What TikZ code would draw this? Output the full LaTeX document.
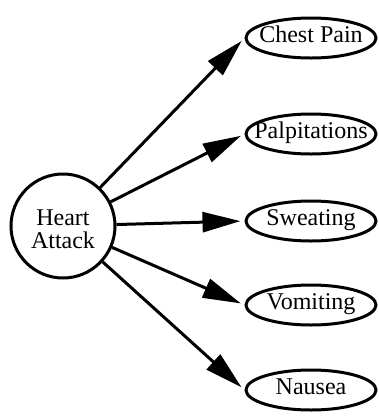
\documentclass[tikz,border=0pt]{standalone}
\usepackage{fontspec}
\setmainfont{Liberation Serif}
\usetikzlibrary{arrows.meta,shapes.geometric}
\tikzset{
  cause/.style={circle, draw=black, line width=3pt, minimum size=104pt, inner sep=0pt, align=center, font=\fontsize{24}{23}\selectfont},
  symptom/.style={ellipse, draw=black, line width=3pt, minimum width=130pt, minimum height=40pt, inner xsep=-30pt, inner ysep=0pt, text height=12pt, text depth=4pt, font=\fontsize{24}{26}\selectfont},
  arrow/.style={-{Triangle[length=38pt, width=20pt]}, line width=3pt, shorten >=4pt}
}
\begin{document}
\begin{tikzpicture}[x=1pt, y=-1pt]
  \useasboundingbox (0,0) rectangle (379,416);
  \node[cause] (ha) at (63,226) {\rule{0pt}{22pt}Heart\\Attack};
  \node[symptom] (cp) at (311,38) {Chest Pain};
  \node[symptom] (pa) at (311,134) {Palpitations};
  \node[symptom] (sw) at (311,221) {Sweating};
  \node[symptom] (vo) at (311,305) {Vomiting};
  \node[symptom] (na) at (311,390) {Nausea};
  \draw[arrow] (ha)--(cp.west); \draw[arrow] (ha)--(pa.west);
  \draw[arrow] (ha)--(sw.west); \draw[arrow] (ha)--(vo.west);
  \draw[arrow] (ha)--(na.west);
\end{tikzpicture}
\end{document}
